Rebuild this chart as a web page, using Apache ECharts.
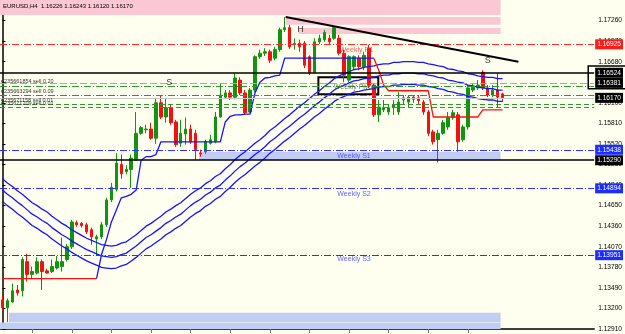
<!DOCTYPE html>
<html><head><meta charset="utf-8">
<script src="https://cdn.jsdelivr.net/npm/echarts@6/dist/echarts.min.js"></script>
<style>html,body{margin:0;padding:0;background:#fffff0}#c{width:625px;height:334px}</style>
</head><body><div id="c"></div>
<script>
// ---------- DATA ----------
const headerText = 'EURUSD,H4  1.16226 1.16243 1.16120 1.16170';
const slotCount = 120;                       // bar slots on the time axis (last 18 empty)
const timeTickBars = [6,14,22,30,38,46,54,62,70,78,86,94];
const priceAxis = {min: 1.12910, max: 1.17550, step: 0.0029};
// candles: [open, close, low, high]
const ohlc = [
[1.1332,1.1321,1.1318,1.1337],[1.1321,1.1331,1.1301,1.1334],[1.1329,1.1345,1.1328,1.1355],[1.1346,1.1342,1.1338,1.1353],
[1.1345,1.1389,1.1337,1.1392],[1.1386,1.1368,1.1358,1.1397],[1.1368,1.1372,1.1362,1.1379],[1.1370,1.1386,1.1368,1.1392],
[1.1386,1.1372,1.1346,1.1389],[1.1373,1.1370,1.1369,1.1376],[1.1372,1.1379,1.1370,1.1389],[1.1377,1.1386,1.1375,1.1394],
[1.1379,1.1386,1.1372,1.1420],[1.1389,1.1407,1.1386,1.1411],[1.1407,1.1442,1.1404,1.1445],[1.1441,1.1438,1.1435,1.1444],
[1.1440,1.1437,1.1434,1.1442],[1.1438,1.1428,1.1425,1.1441],[1.1431,1.1421,1.1410,1.1434],[1.1418,1.1421,1.1394,1.1424],
[1.1421,1.1438,1.1418,1.1442],[1.1438,1.1473,1.1435,1.1476],[1.1473,1.1491,1.1470,1.1497],[1.1488,1.1525,1.1485,1.1539],
[1.1523,1.1510,1.1503,1.1537],[1.1513,1.1516,1.1509,1.1522],[1.1516,1.1532,1.1490,1.1537],[1.1529,1.1567,1.1528,1.1597],
[1.1567,1.1575,1.1565,1.1577],[1.1572,1.1573,1.1567,1.1579],[1.1573,1.1560,1.1558,1.1582],[1.1560,1.1610,1.1552,1.1617],
[1.1610,1.1590,1.1587,1.1621],[1.1590,1.1603,1.1582,1.1617],[1.1603,1.1582,1.1579,1.1607],[1.1583,1.1551,1.1548,1.1586],
[1.1553,1.1567,1.1548,1.1586],[1.1566,1.1573,1.1551,1.1589],[1.1573,1.1555,1.1552,1.1579],[1.1567,1.1544,1.1529,1.1572],
[1.1539,1.1538,1.1534,1.1544],[1.1541,1.1555,1.1538,1.1558],[1.1553,1.1558,1.1551,1.1565],[1.1555,1.1590,1.1553,1.1597],
[1.1590,1.1621,1.1589,1.1638],[1.1618,1.1624,1.1615,1.1628],[1.1624,1.1618,1.1614,1.1628],[1.1618,1.1645,1.1615,1.1652],
[1.1642,1.1624,1.1621,1.1646],[1.1624,1.1596,1.1593,1.1628],[1.1597,1.1628,1.1596,1.1631],[1.1628,1.1675,1.1625,1.1677],
[1.1675,1.1680,1.1672,1.1685],[1.1680,1.1682,1.1676,1.1687],[1.1682,1.1670,1.1666,1.1685],[1.1673,1.1685,1.1670,1.1689],
[1.1685,1.1713,1.1682,1.1716],[1.1713,1.1716,1.1710,1.1731],[1.1716,1.1689,1.1686,1.1720],[1.1692,1.1694,1.1685,1.1701],
[1.1694,1.1689,1.1682,1.1699],[1.1694,1.1663,1.1659,1.1697],[1.1675,1.1653,1.1649,1.1677],[1.1653,1.1696,1.1652,1.1701],
[1.1696,1.1701,1.1693,1.1706],[1.1699,1.1709,1.1696,1.1713],[1.1701,1.1696,1.1692,1.1706],[1.1701,1.1716,1.1699,1.1718],
[1.1701,1.1680,1.1677,1.1706],[1.1680,1.1649,1.1639,1.1685],[1.1642,1.1675,1.1639,1.1677],[1.1661,1.1675,1.1656,1.1677],
[1.1673,1.1661,1.1656,1.1677],[1.1661,1.1677,1.1656,1.1682],[1.1687,1.1635,1.1631,1.1692],[1.1635,1.1593,1.1590,1.1638],
[1.1593,1.1604,1.1583,1.1614],[1.1600,1.1603,1.1597,1.1614],[1.1597,1.1603,1.1593,1.1607],[1.1603,1.1607,1.1593,1.1614],
[1.1597,1.1611,1.1593,1.1625],[1.1614,1.1617,1.1607,1.1621],[1.1611,1.1618,1.1603,1.1621],[1.1618,1.1615,1.1610,1.1621],
[1.1617,1.1613,1.1608,1.1621],[1.1611,1.1597,1.1593,1.1614],[1.1597,1.1567,1.1563,1.1600],[1.1569,1.1555,1.1551,1.1572],
[1.1558,1.1567,1.1526,1.1572],[1.1567,1.1582,1.1565,1.1586],[1.1576,1.1589,1.1572,1.1597],[1.1589,1.1596,1.1586,1.1600],
[1.1593,1.1555,1.1541,1.1597],[1.1558,1.1576,1.1555,1.1579],[1.1576,1.1631,1.1572,1.1635],[1.1628,1.1632,1.1625,1.1637],
[1.1631,1.1635,1.1628,1.1642],[1.1653,1.1631,1.1628,1.1656],[1.1631,1.1621,1.1618,1.1635],[1.1621,1.1628,1.1618,1.1635],
[1.1628,1.1618,1.1604,1.1652],[1.16226,1.16170,1.16120,1.16243]
];
const bandUpper = [1.1503,1.1497,1.1492,1.1486,1.1481,1.1475,1.1469,1.1465,1.1460,1.1456,
1.1450,1.1445,1.1440,1.1436,1.1431,1.1427,1.1423,1.1419,1.1416,1.1413,
1.1410,1.1409,1.1408,1.1409,1.1412,1.1414,1.1419,1.1424,1.1430,1.1436,
1.1440,1.1445,1.1450,1.1456,1.1460,1.1465,1.1469,1.1475,1.1481,1.1486,
1.1490,1.1496,1.1500,1.1506,1.1510,1.1517,1.1523,1.1530,1.1536,1.1541,
1.1547,1.1553,1.1558,1.1564,1.1571,1.1576,1.1582,1.1588,1.1593,1.1599,
1.1605,1.1610,1.1616,1.1622,1.1627,1.1633,1.1638,1.1644,1.1648,1.1651,
1.1654,1.1657,1.1658,1.1660,1.1661,1.1662,1.1664,1.1665,1.1665,1.1667,
1.1667,1.1668,1.1668,1.1668,1.1667,1.1667,1.1665,1.1664,1.1662,1.1661,
1.1658,1.1657,1.1655,1.1654,1.1651,1.1650,1.1648,1.1647,1.1646,1.1646,
1.1644,1.1644];
const bandMiddle = [1.1487,1.1481,1.1476,1.1470,1.1465,1.1459,1.1453,1.1449,1.1444,1.1440,
1.1434,1.1429,1.1424,1.1420,1.1415,1.1411,1.1407,1.1403,1.1400,1.1397,
1.1394,1.1393,1.1392,1.1393,1.1396,1.1398,1.1403,1.1408,1.1414,1.1420,
1.1424,1.1429,1.1434,1.1440,1.1444,1.1449,1.1453,1.1459,1.1465,1.1470,
1.1474,1.1480,1.1484,1.1490,1.1494,1.1501,1.1507,1.1514,1.1520,1.1525,
1.1531,1.1537,1.1542,1.1548,1.1555,1.1560,1.1566,1.1572,1.1577,1.1583,
1.1589,1.1594,1.1600,1.1606,1.1611,1.1617,1.1622,1.1628,1.1632,1.1635,
1.1638,1.1641,1.1642,1.1644,1.1645,1.1646,1.1648,1.1649,1.1649,1.1651,
1.1651,1.1652,1.1652,1.1652,1.1651,1.1651,1.1649,1.1648,1.1646,1.1645,
1.1642,1.1641,1.1639,1.1638,1.1635,1.1634,1.1632,1.1631,1.1630,1.1630,
1.1628,1.1628];
const bandLower = [1.1471,1.1465,1.1460,1.1454,1.1449,1.1443,1.1437,1.1433,1.1428,1.1424,
1.1418,1.1413,1.1408,1.1404,1.1399,1.1395,1.1391,1.1387,1.1384,1.1381,
1.1378,1.1377,1.1376,1.1377,1.1380,1.1382,1.1387,1.1392,1.1398,1.1404,
1.1408,1.1413,1.1418,1.1424,1.1428,1.1433,1.1437,1.1443,1.1449,1.1454,
1.1458,1.1464,1.1468,1.1474,1.1478,1.1485,1.1491,1.1498,1.1504,1.1509,
1.1515,1.1521,1.1526,1.1532,1.1539,1.1544,1.1550,1.1556,1.1561,1.1567,
1.1573,1.1578,1.1584,1.1590,1.1595,1.1601,1.1606,1.1612,1.1616,1.1619,
1.1622,1.1625,1.1626,1.1628,1.1629,1.1630,1.1632,1.1633,1.1633,1.1635,
1.1635,1.1636,1.1636,1.1636,1.1635,1.1635,1.1633,1.1632,1.1630,1.1629,
1.1626,1.1625,1.1623,1.1622,1.1619,1.1618,1.1616,1.1615,1.1614,1.1614,
1.1612,1.1612];
const _ = null;
const stopUp = [_,_,_,_,_,_,_,_,_,_,_,_,_,_,_,_,_,_,_,
1.1362,1.1396,1.1417,1.1442,1.1459,1.1476,1.1478,1.1481,1.1487,1.1529,1.1534,1.1534,1.1537,
1.1555,1.1555,1.1555,1.1555,1.1555,1.1555,1.1555,1.1555,1.1555,1.1555,1.1555,1.1555,1.1555,
1.1583,1.1591,1.1593,1.1593,1.1594,1.1594,1.1624,1.1639,1.1645,1.1646,1.1648,1.1649,
1.1673,1.1673,1.1673,1.1673,1.1673,1.1673,1.1673,1.1673,1.1673,1.1673,1.1673,1.1673,1.1673,1.1673,1.1673,1.1673,1.1673,1.1673,1.1673];
const stopDown = [1.1362,1.1362,1.1362,1.1362,1.1362,1.1362,1.1362,1.1362,1.1362,1.1362,
1.1362,1.1362,1.1362,1.1362,1.1362,1.1362,1.1362,1.1362,1.1362,1.1362,
_,_,_,_,_,_,_,_,_,_,_,_,_,_,_,_,_,_,_,_,_,_,_,_,_,_,_,_,_,_,_,_,_,_,_,
_,_,_,_,_,_,_,_,_,_,_,_,_,_,_,_,_,_,_,_,
1.1673,1.1656,1.1635,1.1627,1.1627,1.1627,1.1627,1.1627,1.1627,1.1627,1.1627,1.1627,
1.1590,1.1590,1.1590,1.1590,1.1590,1.1590,1.1590,1.1590,1.1590,1.1590,
1.1600,1.1600,1.1600,1.1600,1.1600];
// horizontal price levels with price tags on the right
const levelPrices = [1.16925, 1.16524, 1.16381, 1.16170, 1.15438, 1.15290, 1.14894, 1.13951];
const levelKinds  = ['r1', 'black', 'pivot', 'bid', 'sup', 'black', 'sup', 'sup'];
// open orders
const orderPrices = [1.16340, 1.16210, 1.16080, 1.16040];
const orderTexts  = ['#235661854 sell 0.20', '#235663294 sell 0.09', '#235671158 sell 0.01', '#235671209 sell 0.01'];
// pivot captions [bar position, price, text, kind]
const pivotCaptions = [[71.5, 1.1685, 'Weekly R1', 'r1'], [71.0, 1.1632, 'Weekly Pivot', 'pivot'],
  [71.0, 1.1535, 'Weekly S1', 'sup'], [71.0, 1.1482, 'Weekly S2', 'sup'], [71.0, 1.1389, 'Weekly S3', 'sup']];
const marksText = [[60.2, 1.1713, 'H'], [33.7, 1.1638, 'S'], [98.0, 1.1670, 'S']];
const trendLine = [[57.2, 1.1731], [104.2, 1.1668]];
// zones [barFrom, barTo, priceHigh, priceLow, kind]
const zones = [[-0.5, 100.6, 1.1755, 1.1734, 'supply'], [57.2, 100.6, 1.1731, 1.1720, 'supply'],
  [59.8, 100.6, 1.1716, 1.1707, 'supply'], [39.7, 100.6, 1.1541, 1.1529, 'demand'],
  [1.3, 100.6, 1.1314, 1.1301, 'demand'], [-0.5, 100.6, 1.1300, 1.1291, 'demand']];
const pivotBox = [63.8, 75.9, 1.1646, 1.1622];
const tagBox = [118.3, 126.5, 1.1662, 1.1630];

// ---------- CHART ----------
const FONT = 'Liberation Sans';
const upC = '#129412', dnC = '#f21010', blueC = '#1414ff';
const kindStyle = {
  r1:    {line: {color: '#ff2a2a', type: [7, 2, 1, 2], width: 1}, tag: '#ff1a1a', text: '#ff2a2a'},
  black: {line: {color: '#000', type: 'solid', width: 1.5}, tag: '#000', text: '#000'},
  pivot: {line: {color: '#a8a8a8', type: [7, 3], width: 1.2}, tag: '#000', text: '#555'},
  bid:   {line: {color: '#c8c8c8', type: 'solid', width: 1}, tag: '#000', text: '#000'},
  sup:   {line: {color: '#3030ff', type: [7, 2, 1, 2], width: 1}, tag: '#1a2cff', text: '#3a3aff'}
};
const zoneColor = {supply: '#fbc7d4', demand: '#c2cdf3'};

const chart = echarts.init(document.getElementById('c'), null, {renderer: 'canvas'});
const slots = Array.from({length: slotCount}, (v, i) => String(i));

const levelLines = levelPrices.map((p, i) => {
  const k = kindStyle[levelKinds[i]];
  return {yAxis: p, lineStyle: k.line, label: {show: true, position: 'end', distance: 1,
    formatter: p.toFixed(5), color: '#fff', backgroundColor: k.tag, padding: [2, 2, 1, 2],
    fontSize: 6.6, fontFamily: FONT}};
});
const orderLines = orderPrices.map((p, i) => ({yAxis: p,
  lineStyle: {color: '#2a9a2a', type: i < 2 ? [7, 2, 1, 2] : [5, 3], width: 1},
  label: {show: true, position: 'insideStartTop', distance: 1, formatter: orderTexts[i],
    color: '#333', fontSize: 5.5, fontFamily: FONT, padding: [0, 0, 0, 0]}}));

const option = {
  animation: false,
  backgroundColor: '#fffff0',
  title: {text: headerText, left: 3, top: 3, padding: 0,
    textStyle: {fontSize: 6, fontWeight: 'normal', color: '#000', fontFamily: FONT}},
  grid: {left: 0, right: 28, top: 0, bottom: 5, containLabel: false},
  xAxis: [
    {type: 'category', data: slots, boundaryGap: true,
     axisLine: {lineStyle: {color: '#000', width: 1.5}},
     axisTick: {show: true, alignWithLabel: true, length: 4, lineStyle: {color: '#777'},
       interval: (idx) => timeTickBars.includes(idx)},
     axisLabel: {show: false}, splitLine: {show: false}},
    {type: 'value', min: -0.5, max: slotCount - 0.5, show: false}
  ],
  yAxis: {type: 'value', position: 'right', min: priceAxis.min, max: priceAxis.max, interval: priceAxis.step,
    scale: true,
    axisLine: {show: true, lineStyle: {color: '#000', width: 1.5}},
    axisTick: {show: true, length: 3, lineStyle: {color: '#000'}},
    splitLine: {show: false},
    axisLabel: {show: true, margin: 4, fontSize: 6.6, color: '#000', fontFamily: FONT, showMaxLabel: false,
      formatter: (v) => v > 1.174 ? '' : v.toFixed(5)}},
  series: [
    {type: 'line', xAxisIndex: 1, data: [], silent: true, clip: false, z: 0,
     markArea: {silent: true, precision: 6, data: zones.map(z => [
       {coord: [z[0], z[2]], itemStyle: {color: zoneColor[z[4]]}}, {coord: [z[1], z[3]]}])}},
    {type: 'line', xAxisIndex: 1, data: [], silent: true, clip: false, z: 1,
     markLine: {silent: true, precision: 6, symbol: ['none', 'none'], animation: false,
       data: orderLines.concat(levelLines)}},
    {type: 'candlestick', xAxisIndex: 0, data: ohlc, barWidth: 3, z: 3,
     itemStyle: {color: upC, color0: dnC, borderColor: upC, borderColor0: dnC, borderWidth: 1}},
    {type: 'line', xAxisIndex: 0, data: bandUpper, symbol: 'none', z: 4, lineStyle: {color: blueC, width: 1.3}},
    {type: 'line', xAxisIndex: 0, data: bandMiddle, symbol: 'none', z: 4, lineStyle: {color: blueC, width: 1.3}},
    {type: 'line', xAxisIndex: 0, data: bandLower, symbol: 'none', z: 4, lineStyle: {color: blueC, width: 1.3}},
    {type: 'line', xAxisIndex: 0, data: stopUp, symbol: 'none', z: 4, lineStyle: {color: blueC, width: 1.3}},
    {type: 'line', xAxisIndex: 0, data: stopDown, symbol: 'none', z: 4, lineStyle: {color: '#ff1010', width: 1.3}},
    {type: 'line', xAxisIndex: 1, data: [], silent: true, clip: false, z: 5,
     markLine: {silent: true, precision: 6, symbol: ['none', 'none'],
       data: [[{coord: trendLine[0]}, {coord: trendLine[1]}]],
       lineStyle: {color: '#000', width: 2, type: 'solid'}, label: {show: false}},
     markArea: {silent: true, precision: 6, data: [[{coord: [pivotBox[0], pivotBox[2]],
       itemStyle: {color: 'rgba(0,0,0,0)', borderColor: '#000', borderWidth: 2}}, {coord: [pivotBox[1], pivotBox[3]]}]]}},
    {type: 'scatter', xAxisIndex: 1, symbolSize: 1, z: 6, silent: true,
     itemStyle: {color: 'rgba(0,0,0,0)'},
     data: pivotCaptions.map(c => ({value: [c[0], c[1]], name: c[2],
       label: {color: kindStyle[c[3]].text}})),
     label: {show: true, position: 'inside', formatter: '{b}', fontSize: 7, fontFamily: FONT}},
    {type: 'scatter', xAxisIndex: 1, symbolSize: 1, z: 6, silent: true,
     itemStyle: {color: 'rgba(0,0,0,0)'},
     data: marksText.map(c => ({value: [c[0], c[1]], name: c[2]})),
     label: {show: true, position: 'inside', formatter: '{b}', fontSize: 9, color: '#000', fontFamily: FONT}}
  ]
};
chart.setOption(option);
const bx0 = chart.convertToPixel({xAxisIndex: 1}, tagBox[0]);
const bx1 = chart.convertToPixel({xAxisIndex: 1}, tagBox[1]);
const by0 = chart.convertToPixel({yAxisIndex: 0}, tagBox[2]);
const by1 = chart.convertToPixel({yAxisIndex: 0}, tagBox[3]);
chart.setOption({graphic: [{type: 'rect', z: 100, shape: {x: bx0, y: by0, width: bx1 - bx0, height: by1 - by0},
  style: {fill: 'none', stroke: '#000', lineWidth: 1.5}}]});
</script></body></html>
